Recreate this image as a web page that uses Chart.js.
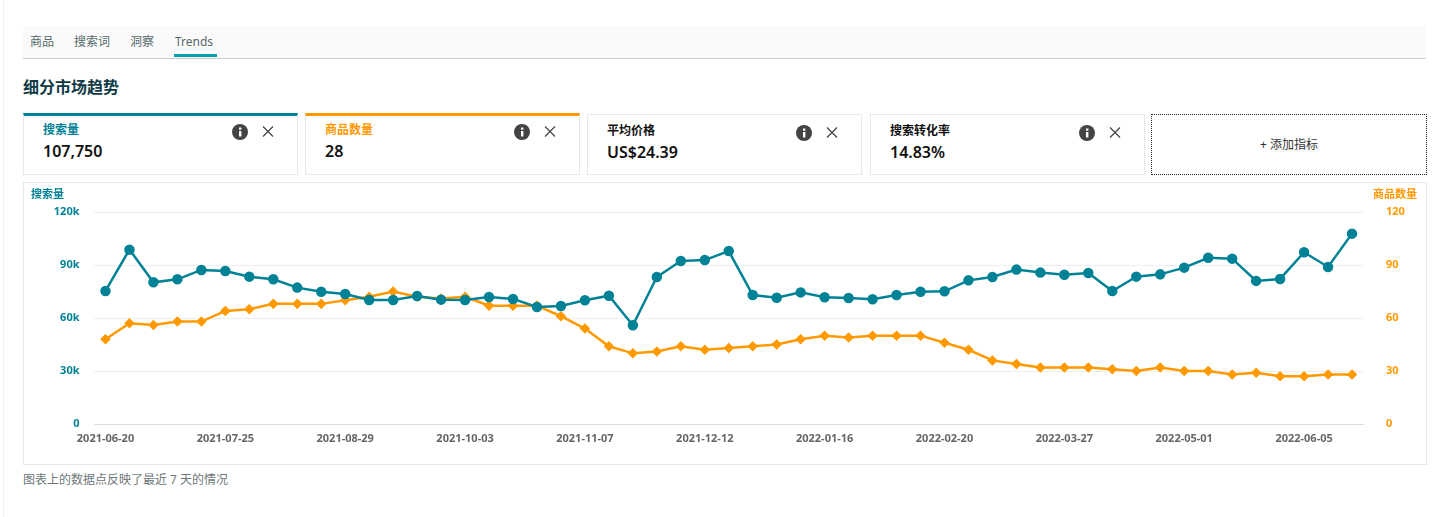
<!DOCTYPE html>
<html lang="zh">
<head>
<meta charset="utf-8">
<title>细分市场趋势</title>
<script src="https://cdn.jsdelivr.net/npm/chart.js@4"></script>
<style>
html, body { margin: 0; padding: 0; background: #fff; }
body {
  position: relative; width: 1440px; height: 517px; overflow: hidden;
  font-family: "Noto Sans", "Noto Sans CJK SC", sans-serif; color: #111;
}
.abs { position: absolute; white-space: nowrap; line-height: 1; }
#edge { position: absolute; left: 3px; top: 0; width: 1px; height: 517px; background: #f3f3f3; }
#tabs { position: absolute; left: 23px; top: 26px; width: 1403px; height: 32px; background: #fafafa; border-bottom: 1px solid #ccc; }
.tab { position: absolute; top: 9px; font-size: 12px; line-height: 14px; color: #56686b; white-space: nowrap; }
#tabLine { position: absolute; left: 151px; top: 28px; width: 43px; height: 3px; background: #00a0ae; }
#title { left: 23px; top: 79px; font-size: 16px; font-weight: 700; color: #0f3a45; }
.card { position: absolute; top: 114px; height: 59px; background: #fff; border: 1px solid #e6e9e9; box-sizing: content-box; }
.card.on { top: 113px; height: 58px; border-top: 3px solid; }
.card .label { position: absolute; left: 19px; top: 9px; font-size: 12px; font-weight: 700; line-height: 14px; white-space: nowrap; }
.card.on .label { top: 7px; }
.card .value { position: absolute; left: 19px; top: 27px; font-size: 16px; font-weight: 600; line-height: 20px; white-space: nowrap; }
.card.on .value { top: 25px; }
.card svg { position: absolute; left: 208px; top: 9px; }
.card.on svg { top: 7px; }
#add { position: absolute; left: 1151px; top: 114px; width: 274px; height: 59px; border: 1px dotted #222; font-size: 12px; line-height: 60px; text-align: center; color: #333; }
#chartBox { position: absolute; left: 23px; top: 182px; width: 1402px; height: 281px; border: 1px solid #e4e7e7; }
#chart { position: absolute; left: 0; top: 0; }
.axisTitle { font-size: 11px; font-weight: 700; }
#note { left: 23px; top: 474px; font-size: 12px; color: #6c7778; }
</style>
</head>
<body>
<div id="edge"></div>
<div id="tabs">
  <span class="tab" style="left:7px">商品</span>
  <span class="tab" style="left:51px">搜索词</span>
  <span class="tab" style="left:107px">洞察</span>
  <span class="tab" style="left:152px">Trends</span>
  <div id="tabLine"></div>
</div>
<div class="abs" id="title">细分市场趋势</div>

<div id="cards"></div>
<div id="add">+ 添加指标</div>

<div id="chartBox"><canvas id="chart" width="1402" height="281"></canvas></div>
<div class="abs axisTitle" style="left:31px;top:188px;color:#008296">搜索量</div>
<div class="abs axisTitle" style="left:1373px;top:188px;color:#ff9900">商品数量</div>
<div class="abs" id="note">图表上的数据点反映了最近 7 天的情况</div>

<script>
"use strict";

const weeks = [
  "2021-06-20", "2021-06-27", "2021-07-04", "2021-07-11", "2021-07-18",
  "2021-07-25", "2021-08-01", "2021-08-08", "2021-08-15", "2021-08-22",
  "2021-08-29", "2021-09-05", "2021-09-12", "2021-09-19", "2021-09-26",
  "2021-10-03", "2021-10-10", "2021-10-17", "2021-10-24", "2021-10-31",
  "2021-11-07", "2021-11-14", "2021-11-21", "2021-11-28", "2021-12-05",
  "2021-12-12", "2021-12-19", "2021-12-26", "2022-01-02", "2022-01-09",
  "2022-01-16", "2022-01-23", "2022-01-30", "2022-02-06", "2022-02-13",
  "2022-02-20", "2022-02-27", "2022-03-06", "2022-03-13", "2022-03-20",
  "2022-03-27", "2022-04-03", "2022-04-10", "2022-04-17", "2022-04-24",
  "2022-05-01", "2022-05-08", "2022-05-15", "2022-05-22", "2022-05-29",
  "2022-06-05", "2022-06-12", "2022-06-19",
];

const searchVolume = [
  75300, 98700, 80200, 81900, 87200, 86600, 83400, 81900, 77200, 74900,
  73600, 70200, 70200, 72500, 70400, 70200, 71900, 70800, 66200, 66800,
  70000, 72600, 55900, 83200, 92300, 92800, 97900, 73000, 71500, 74500,
  71700, 71300, 70600, 73000, 74900, 75100, 81300, 83200, 87400, 85700,
  84500, 85500, 75300, 83400, 84700, 88500, 94100, 93600, 81000, 82100,
  97200, 88900, 107750,
];

const productCount = [
  48, 57, 56, 58, 58, 64, 65, 68, 68, 68,
  70, 72, 75, 72, 71, 72, 67, 67, 67, 61,
  54, 44, 40, 41, 44, 42, 43, 44, 45, 48,
  50, 49, 50, 50, 50, 46, 42, 36, 34, 32,
  32, 32, 31, 30, 32, 30, 30, 28, 29, 27,
  27, 28, 28,
];

const leftTicks = [0, 30000, 60000, 90000, 120000];
const rightTicks = [0, 30, 60, 90, 120];

const metricNames = ["搜索量", "商品数量", "平均价格", "搜索转化率"];
const metricValues = ["107,750", "28", "US$24.39", "14.83%"];
const metricLefts = [23, 305, 587, 870];
const metricColors = ["#008296", "#ff9900", "#111", "#111"];

const blue = "#008296";
const orange = "#ff9900";

const iconSvg =
  '<svg width="60" height="18" viewBox="0 0 60 18">' +
  '<circle cx="8" cy="9" r="8" fill="#444"/>' +
  '<rect x="7" y="8" width="2.4" height="5.5" fill="#fff"/>' +
  '<rect x="7" y="4.5" width="2.4" height="2.2" fill="#fff"/>' +
  '<path d="M31 3.5 L41 13.5 M41 3.5 L31 13.5" stroke="#444" stroke-width="1.2" fill="none"/>' +
  "</svg>";

const cardsElem = document.getElementById("cards");
for (let i = 0; i < metricNames.length; i++) {
  const card = document.createElement("div");
  card.className = i < 2 ? "card on" : "card";
  card.style.left = metricLefts[i] + "px";
  card.style.width = "273px";
  if (i < 2) card.style.borderTopColor = metricColors[i];
  card.innerHTML =
    '<div class="label" style="color:' + metricColors[i] + '">' + metricNames[i] + "</div>" +
    '<div class="value">' + metricValues[i] + "</div>" + iconSvg;
  cardsElem.appendChild(card);
}

const tickFont = { family: '"Noto Sans", "Noto Sans CJK SC", sans-serif', size: 11, weight: "700" };

new Chart(document.getElementById("chart"), {
  type: "line",
  data: {
    labels: weeks,
    datasets: [
      {
        label: "搜索量",
        data: searchVolume,
        yAxisID: "yLeft",
        borderColor: blue,
        backgroundColor: blue,
        borderWidth: 2.5,
        pointRadius: 4,
        pointStyle: "circle",
        tension: 0,
      },
      {
        label: "商品数量",
        data: productCount,
        yAxisID: "yRight",
        borderColor: orange,
        backgroundColor: orange,
        borderWidth: 2.5,
        pointRadius: 3.5,
        pointStyle: "rectRot",
        tension: 0,
      },
    ],
  },
  options: {
    responsive: false,
    animation: false,
    layout: { padding: { top: 29, bottom: 0, left: 0, right: 0 } },
    plugins: { legend: { display: false }, tooltip: { enabled: false } },
    scales: {
      x: {
        offset: true,
        grid: { display: false },
        border: { display: false },
        ticks: {
          autoSkip: false,
          maxRotation: 0,
          padding: 0,
          color: "#666",
          font: tickFont,
          callback: function (value, index) {
            return index % 5 === 0 ? weeks[index] : "";
          },
        },
        afterFit: function (scale) { scale.height = 40; },
      },
      yLeft: {
        position: "left",
        min: 0,
        max: 120000,
        afterBuildTicks: function (scale) {
          scale.ticks = leftTicks.map((v) => ({ value: v }));
        },
        grid: {
          color: (ctx) => (ctx.tick.value === 0 ? "#d5dfe8" : "#eeeeee"),
          drawTicks: false,
        },
        border: { display: false },
        ticks: {
          color: blue,
          font: tickFont,
          padding: 14,
          callback: (v) => (v === 0 ? "0" : v / 1000 + "k"),
        },
        afterFit: function (scale) { scale.width = 69.5; },
      },
      yRight: {
        position: "right",
        min: 0,
        max: 120,
        afterBuildTicks: function (scale) {
          scale.ticks = rightTicks.map((v) => ({ value: v }));
        },
        grid: { display: false },
        border: { display: false },
        ticks: { color: orange, font: tickFont, padding: 14 },
        afterFit: function (scale) { scale.width = 62; },
      },
    },
  },
});
</script>
</body>
</html>
